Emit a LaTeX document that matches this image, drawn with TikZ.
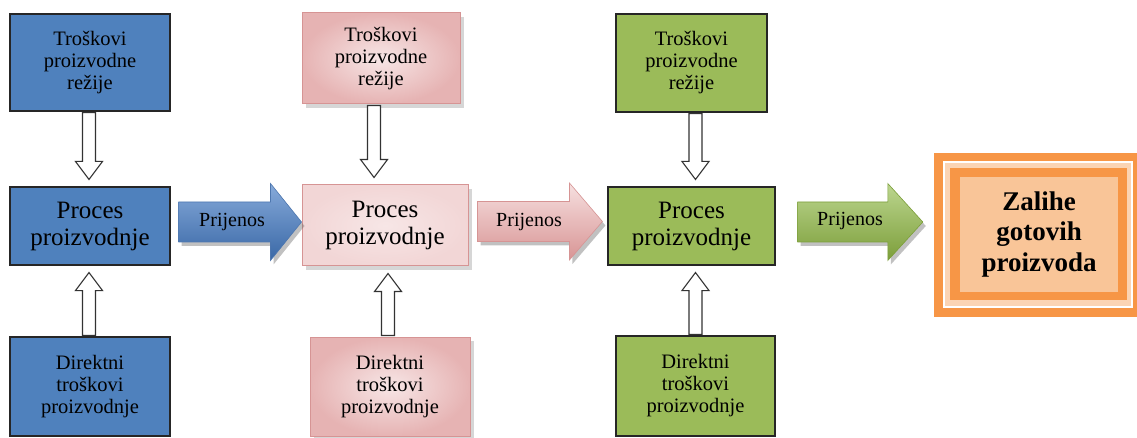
\documentclass[tikz,border=0pt]{standalone}
\usepackage{fontspec}
\setmainfont{Liberation Serif}
\usetikzlibrary{calc,shadows}
\definecolor{bl}{HTML}{4F81BD}
\definecolor{gr}{HTML}{9BBB59}
\definecolor{pkd}{HTML}{D69494}
\definecolor{pkm}{HTML}{E6B3B3}
\definecolor{pkl}{HTML}{F7E6E6}
\definecolor{pkp}{HTML}{F2D6D6}
\definecolor{orr}{HTML}{F79646}
\definecolor{orp}{HTML}{FBD4B4}
\definecolor{ori}{HTML}{F9C598}
\definecolor{blt}{HTML}{86AADA}
\definecolor{blb}{HTML}{3A68A6}
\definecolor{grt}{HTML}{BCD68F}
\definecolor{grb}{HTML}{7C9E3A}
\definecolor{pat}{HTML}{F6E0E0}
\definecolor{pab}{HTML}{D89494}
\newcommand\hdown[3]{\draw[hollow] let \p1=(#1), \p2=(#2) in
 (\x1+#3-6.5pt,\y1-1pt) -- (\x1+#3-6.5pt,\y2+25pt) -- (\x1+#3-13.5pt,\y2+25pt) -- (\x1+#3,\y2+7pt) -- (\x1+#3+13.5pt,\y2+25pt) -- (\x1+#3+6.5pt,\y2+25pt) -- (\x1+#3+6.5pt,\y1-1pt) -- cycle;}
\newcommand\hup[3]{\draw[hollow] let \p1=(#1), \p2=(#2) in
 (\x1+#3-6.5pt,\y1+1pt) -- (\x1+#3-6.5pt,\y2-25pt) -- (\x1+#3-13.5pt,\y2-25pt) -- (\x1+#3,\y2-7pt) -- (\x1+#3+13.5pt,\y2-25pt) -- (\x1+#3+6.5pt,\y2-25pt) -- (\x1+#3+6.5pt,\y1+1pt) -- cycle;}
\newcommand\barrow[6]{\path[#1] let \p1=(#2), \p2=(#3) in
 (\x1+#4,\y1+24pt) -- (\x2-#5-#6,\y1+24pt) -- (\x2-#5-#6,\y1+42.5pt) -- (\x2-#5,\y1+4pt) -- (\x2-#5-#6,\y1-34.5pt) -- (\x2-#5-#6,\y1-16pt) -- (\x1+#4,\y1-16pt) -- cycle;}
\begin{document}
\begin{tikzpicture}[x=1pt,y=-1pt,
  box/.style={draw=black!85, line width=1.1pt, align=center, inner sep=0pt,
    font=\rmfamily\fontsize{20.5}{22}\selectfont},
  procbox/.style={box, font=\rmfamily\fontsize{25}{27}\selectfont},
  pinkbox/.style={box, draw=pkd, line width=1pt, shading=radial, inner color=pkl, outer color=pkm,
    drop shadow={shadow xshift=4pt, shadow yshift=-4pt, fill=black!40, opacity=.4}},
  pinkproc/.style={procbox, draw=pkd, line width=1pt, shading=radial, inner color=pkl, outer color=pkp,
    drop shadow={shadow xshift=4pt, shadow yshift=-4pt, fill=black!40, opacity=.4}},
  hollow/.style={draw=black!80, fill=white, line width=1.1pt, line join=miter},
  bshadow/.style={drop shadow={shadow xshift=3pt, shadow yshift=-4pt, fill=black!60, opacity=.4}},
  lbl/.style={inner sep=0pt, font=\rmfamily\fontsize{20}{22}\selectfont}]
\useasboundingbox (0,0) rectangle (1137,438);
\fill[white] (0,0) rectangle (1137,438);
% blue column
\node[box, fill=bl, minimum width=160pt, minimum height=97pt] (bt) at (90,62.5) {Troškovi\\proizvodne\\režije};
\node[procbox, fill=bl, minimum width=160pt, minimum height=78pt] (bp) at (90,226) {Proces\\proizvodnje};
\node[box, fill=bl, minimum width=160pt, minimum height=99pt] (bb) at (90,386.5) {Direktni\\troškovi\\proizvodnje};
% pink column
\node[pinkbox, minimum width=158pt, minimum height=91pt] (pt) at (381,58.5) {Troškovi\\proizvodne\\režije};
\node[pinkproc, minimum width=166pt, minimum height=81pt] (pp) at (385,225.5) {Proces\\proizvodnje};
\node[pinkbox, minimum width=160pt, minimum height=99pt] (pb) at (390,386.5) {Direktni\\troškovi\\proizvodnje};
% green column
\node[box, fill=gr, minimum width=151pt, minimum height=98pt] (gt) at (691.5,63) {Troškovi\\proizvodne\\režije};
\node[procbox, fill=gr, minimum width=167pt, minimum height=78pt] (gp) at (691.5,226) {Proces\\proizvodnje};
\node[box, fill=gr, minimum width=159pt, minimum height=100pt] (gb) at (695.5,386) {Direktni\\troškovi\\proizvodnje};
% final box
\fill[orr] (934,153) rectangle (1137,317);
\fill[white] (943,161) rectangle (1133,308);
\fill[orp] (945,163) rectangle (1131,306);
\fill[orr] (950,168) rectangle (1127,300);
\node[fill=ori, inner sep=0pt, align=center, minimum width=158pt, minimum height=115pt,
  font=\rmfamily\bfseries\fontsize{27}{30.5}\selectfont] (zal) at (1039,234.5) {Zalihe\\gotovih\\proizvoda};
% hollow arrows
\hdown{bt.south}{bp.north}{-1pt}
\hup{bb.north}{bp.south}{-1pt}
\hdown{pt.south}{pp.north}{-7pt}
\hup{pb.north}{pp.south}{-2pt}
\hdown{gt.south}{gp.north}{4pt}
\hup{gb.north}{gp.south}{0pt}
% block arrows
\barrow{bshadow, top color=blt, bottom color=blb, draw=blb!90, line width=.6pt}{bp.east}{pp.west}{8pt}{0pt}{31pt}
\barrow{bshadow, top color=pat, bottom color=pab, draw=pkd, line width=.6pt}{pp.east}{gp.west}{9pt}{5pt}{33pt}
\barrow{bshadow, top color=grt, bottom color=grb, draw=grb, line width=.6pt}{gp.east}{zal.west}{22pt}{37pt}{35pt}
\node[lbl] (l1) at (232,222) {Prijenos};
\node[lbl] (l2) at (529,222) {Prijenos};
\node[lbl] (l3) at (850,221) {Prijenos};
\end{tikzpicture}
\end{document}
